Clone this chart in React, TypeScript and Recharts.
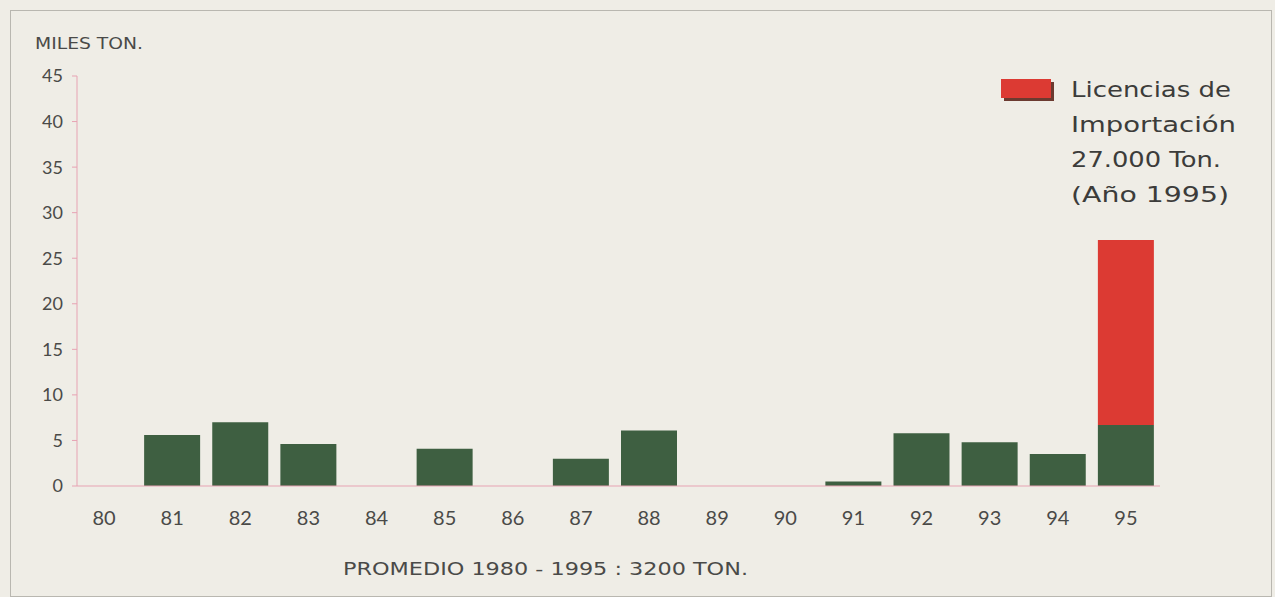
import { Bar, BarChart, XAxis, YAxis } from "recharts";

// Importaciones de carne, miles de toneladas (1980-1995)
const years = ["80", "81", "82", "83", "84", "85", "86", "87", "88", "89", "90", "91", "92", "93", "94", "95"];
const importaciones = [0, 5.6, 7.0, 4.6, 0, 4.1, 0, 3.0, 6.1, 0, 0, 0.5, 5.8, 4.8, 3.5, 6.7];
const licencias = [0, 0, 0, 0, 0, 0, 0, 0, 0, 0, 0, 0, 0, 0, 0, 20.3];
const yTicks = [0, 5, 10, 15, 20, 25, 30, 35, 40, 45];

const legendLines = ["Licencias de", "Importación", "27.000 Ton.", "(Año 1995)"];
const legendWidths = [160, 165, 150, 158];

const data = years.map((year, i) => ({
  year,
  importaciones: importaciones[i],
  licencias: licencias[i],
}));

const font = "Lato, 'Open Sans', sans-serif";
const wide = "'DejaVu Sans', Lato, sans-serif";
const ink = "#4a4a48";
const axisPink = "#e7a3b3";
const green = "#3e5f41";
const red = "#dc3a33";

export default function App() {
  return (
    <div
      style={{
        position: "fixed",
        left: 0,
        top: 0,
        width: 1275,
        height: 597,
        background: "#efede6",
        fontFamily: font,
      }}
    >
      <div
        style={{
          position: "absolute",
          left: 10,
          top: 10,
          width: 1260,
          height: 585,
          border: "1px solid #b9b7b0",
        }}
      />
      <div style={{ position: "absolute", left: 0, top: 0 }}>
        <BarChart
          width={1275}
          height={597}
          data={data}
          margin={{ top: 76, right: 115, bottom: 81, left: 0 }}
        >
          <XAxis
            dataKey="year"
            height={30}
            stroke={axisPink}
            tickLine={false}
            tickSize={6}
            tickMargin={19}
            padding={{ left: -7, right: 0 }}
            tick={{ fill: ink, fontSize: 20, fontFamily: font }}
          />
          <YAxis
            width={77}
            domain={[0, 45]}
            ticks={yTicks}
            interval={0}
            stroke={axisPink}
            tickSize={5}
            tickMargin={9}
            tick={{ fill: ink, fontSize: 18, fontFamily: font }}
          />
          <Bar dataKey="importaciones" stackId="a" fill={green} barSize={56} isAnimationActive={false} />
          <Bar dataKey="licencias" stackId="a" fill={red} barSize={56} isAnimationActive={false} />
        </BarChart>
      </div>
      <svg
        width={1275}
        height={597}
        style={{ position: "absolute", left: 0, top: 0, pointerEvents: "none" }}
        fontFamily={wide}
      >
        <text x={35} y={49} fontSize={15} fill={ink} textLength={108} lengthAdjust="spacingAndGlyphs">
          MILES TON.
        </text>
        <text x={343} y={575} fontSize={17} fill={ink} textLength={405} lengthAdjust="spacingAndGlyphs">
          PROMEDIO 1980 - 1995 : 3200 TON.
        </text>
        <rect x={1004} y={82} width={50} height={19} fill="#6b3a30" />
        <rect x={1001} y={79} width={50} height={19} fill={red} />
        {legendLines.map((t, i) => (
          <text
            key={t}
            x={1071}
            y={97 + i * 35}
            fontSize={21}
            fill="#3c3c3a"
            textLength={legendWidths[i]}
            lengthAdjust="spacingAndGlyphs"
          >
            {t}
          </text>
        ))}
      </svg>
    </div>
  );
}
